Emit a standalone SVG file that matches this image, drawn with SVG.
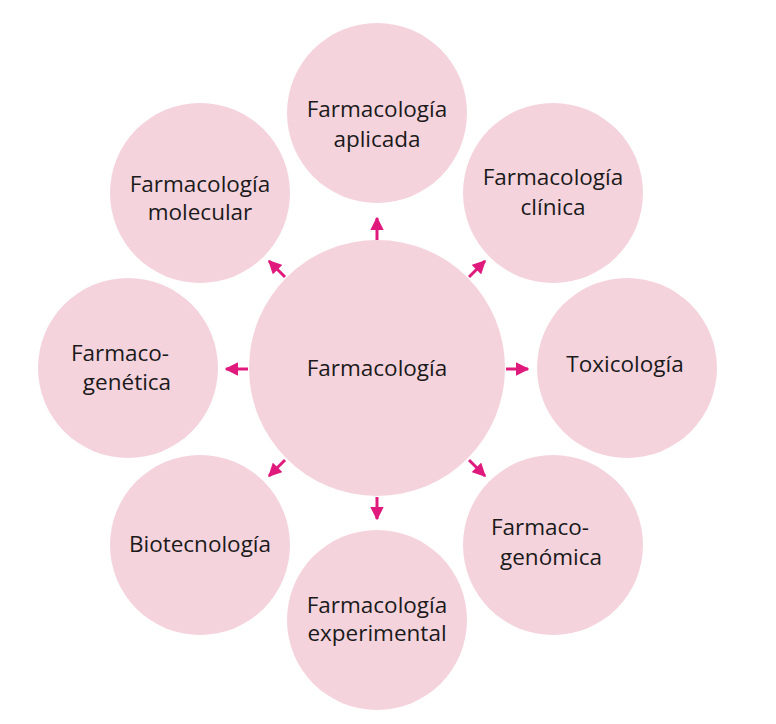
<svg xmlns="http://www.w3.org/2000/svg" width="776" height="724" viewBox="0 0 776 724">
<defs>
<style>
.c{fill:#F5D3DD;}
.t{font-family:"Open Sans","Noto Sans",sans-serif;font-size:22.5px;fill:#1a1a1a;text-anchor:middle;}
.a{stroke:#E0197D;stroke-width:3;fill:none;}
</style>
<marker id="ah" viewBox="0 0 10 10" refX="9" refY="5" markerWidth="4.5" markerHeight="4.5" orient="auto" markerUnits="strokeWidth">
<path d="M0,0 L10,5 L0,10 Z" fill="#E0197D"/>
</marker>
</defs>
<rect width="776" height="724" fill="#fff"/>
<g id="n-center"><circle class="c" cx="377" cy="368" r="128"/><text class="t" x="377" y="376">Farmacología</text></g>
<g id="n-aplicada"><circle class="c" cx="377" cy="113" r="90"/><text class="t" x="377" y="117">Farmacología</text><text class="t" x="377" y="147">aplicada</text></g>
<g id="n-clinica"><circle class="c" cx="553" cy="193" r="90"/><text class="t" x="553" y="185">Farmacología</text><text class="t" x="553" y="215">clínica</text></g>
<g id="n-toxicologia"><circle class="c" cx="627" cy="368" r="90"/><text class="t" x="625" y="372">Toxicología</text></g>
<g id="n-genomica"><circle class="c" cx="553" cy="545" r="90"/><text class="t" x="540" y="535">Farmaco-</text><text class="t" x="551" y="565">genómica</text></g>
<g id="n-experimental"><circle class="c" cx="377" cy="620" r="90"/><text class="t" x="377" y="613">Farmacología</text><text class="t" x="377" y="641">experimental</text></g>
<g id="n-biotecnologia"><circle class="c" cx="200" cy="545" r="90"/><text class="t" x="200" y="552">Biotecnología</text></g>
<g id="n-genetica"><circle class="c" cx="128" cy="368" r="90"/><text class="t" x="120" y="361">Farmaco-</text><text class="t" x="127" y="390">genética</text></g>
<g id="n-molecular"><circle class="c" cx="200" cy="193" r="90"/><text class="t" x="200" y="192">Farmacología</text><text class="t" x="200" y="220">molecular</text></g>
<g id="connectors">
<line class="a" x1="377" y1="240" x2="377" y2="218" marker-end="url(#ah)"/>
<line class="a" x1="469" y1="277" x2="485" y2="261" marker-end="url(#ah)"/>
<line class="a" x1="506" y1="369" x2="528" y2="369" marker-end="url(#ah)"/>
<line class="a" x1="469" y1="460" x2="485" y2="476" marker-end="url(#ah)"/>
<line class="a" x1="377" y1="497" x2="377" y2="519" marker-end="url(#ah)"/>
<line class="a" x1="285" y1="460" x2="269" y2="476" marker-end="url(#ah)"/>
<line class="a" x1="248" y1="369" x2="226" y2="369" marker-end="url(#ah)"/>
<line class="a" x1="285" y1="277" x2="269" y2="261" marker-end="url(#ah)"/>
</g>
</svg>
